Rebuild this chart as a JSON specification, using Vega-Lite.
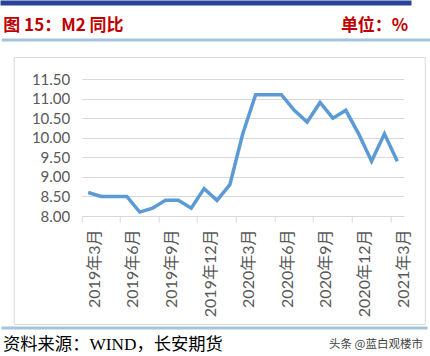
{
  "$schema": "https://vega.github.io/schema/vega-lite/v6.json",
  "background": "white",
  "padding": {"left": 0, "top": 0, "right": 0, "bottom": 0},
  "config": {"view": {"stroke": null}, "font": "Noto Sans CJK SC"},
  "spacing": 9,
  "vconcat": [
    {
      "width": 406,
      "height": 0.01,
      "view": {"stroke": "#27449a", "strokeWidth": 5},
      "data": {"values": []},
      "mark": {"type": "point"},
      "encoding": {}
    },
    {
      "spacing": 1,
      "vconcat": [
        {
          "spacing": 14,
          "center": true,
          "vconcat": [
            {
              "width": 431,
              "height": 0.01,
              "view": {"stroke": "#a6c3dd", "strokeWidth": 3},
              "data": {"values": [{"title": "图 15：M2 同比", "unit": "单位：%"}]},
              "layer": [
                {
                  "mark": {"type": "text", "align": "left", "baseline": "alphabetic", "dy": -9, "fontSize": 17, "fontWeight": "bold", "color": "#c00000", "font": "Noto Sans CJK SC"},
                  "encoding": {
                    "text": {"field": "title"},
                    "x": {"datum": 0, "type": "quantitative", "scale": {"domain": [0, 1]}, "axis": null}
                  }
                },
                {
                  "mark": {"type": "text", "align": "right", "baseline": "alphabetic", "dy": -9, "dx": -26, "fontSize": 17, "fontWeight": "bold", "color": "#c00000", "font": "Noto Sans CJK SC"},
                  "encoding": {
                    "text": {"field": "unit"},
                    "x": {"datum": 1, "type": "quantitative", "scale": {"domain": [0, 1]}, "axis": null}
                  }
                }
              ]
            },
            {
              "width": 411,
              "height": 267,
              "view": {"stroke": "#d9d9d9", "strokeWidth": 1},
              "data": {
                "values": [
                  {"month": "2019年3月", "m2": 8.6},
                  {"month": "2019年4月", "m2": 8.5},
                  {"month": "2019年5月", "m2": 8.5},
                  {"month": "2019年6月", "m2": 8.5},
                  {"month": "2019年7月", "m2": 8.1},
                  {"month": "2019年8月", "m2": 8.2},
                  {"month": "2019年9月", "m2": 8.4},
                  {"month": "2019年10月", "m2": 8.4},
                  {"month": "2019年11月", "m2": 8.2},
                  {"month": "2019年12月", "m2": 8.7},
                  {"month": "2020年1月", "m2": 8.4},
                  {"month": "2020年2月", "m2": 8.8},
                  {"month": "2020年3月", "m2": 10.1},
                  {"month": "2020年4月", "m2": 11.1},
                  {"month": "2020年5月", "m2": 11.1},
                  {"month": "2020年6月", "m2": 11.1},
                  {"month": "2020年7月", "m2": 10.7},
                  {"month": "2020年8月", "m2": 10.4},
                  {"month": "2020年9月", "m2": 10.9},
                  {"month": "2020年10月", "m2": 10.5},
                  {"month": "2020年11月", "m2": 10.7},
                  {"month": "2020年12月", "m2": 10.1},
                  {"month": "2021年1月", "m2": 9.4},
                  {"month": "2021年2月", "m2": 10.1},
                  {"month": "2021年3月", "m2": 9.4}
                ]
              },
              "mark": {"type": "line", "color": "#5b9bd5", "strokeWidth": 3.5},
              "encoding": {
                "x": {
                  "field": "month",
                  "type": "ordinal",
                  "sort": null,
                  "scale": {"type": "band", "range": [68, 390], "paddingInner": 0, "paddingOuter": 0},
                  "axis": {
                    "title": null,
                    "values": ["2019年3月", "2019年6月", "2019年9月", "2019年12月", "2020年3月", "2020年6月", "2020年9月", "2020年12月", "2021年3月"],
                    "bandPosition": 0,
                    "labelOffset": 6.44,
                    "labelAngle": -90,
                    "labelAlign": "right",
                    "labelBaseline": "middle",
                    "offset": -108,
                    "grid": false,
                    "domainColor": "#d9d9d9",
                    "tickColor": "#d9d9d9",
                    "tickSize": 6,
                    "labelPadding": 7,
                    "labelFont": "Lato, Noto Sans CJK SC",
                    "labelFontSize": 16,
                    "labelColor": "#595959"
                  }
                },
                "y": {
                  "field": "m2",
                  "type": "quantitative",
                  "scale": {"domain": [8, 11.5], "range": [159, 22], "nice": false, "zero": false},
                  "axis": {
                    "title": null,
                    "values": [8, 8.5, 9, 9.5, 10, 10.5, 11, 11.5],
                    "format": ".2f",
                    "offset": -68,
                    "domain": false,
                    "ticks": false,
                    "labelPadding": 12,
                    "gridColor": "#d9d9d9",
                    "labelFont": "Lato",
                    "labelFontSize": 15,
                    "labelColor": "#595959"
                  }
                }
              }
            }
          ]
        },
        {
          "width": 423,
          "height": 0.01,
          "view": {"stroke": "#a6c3dd", "strokeWidth": 3},
          "data": {"values": [{"source": "资料来源：WIND，长安期货", "note": "头条 @蓝白观楼市"}]},
          "layer": [
            {
              "mark": {"type": "text", "align": "left", "baseline": "middle", "dy": 16.5, "fontSize": 17.3, "fontWeight": "normal", "color": "#000000", "font": "Liberation Serif, Noto Sans CJK SC"},
              "encoding": {
                "text": {"field": "source"},
                "x": {"datum": 0, "type": "quantitative", "scale": {"domain": [0, 1]}, "axis": null}
              }
            },
            {
              "mark": {"type": "text", "align": "right", "baseline": "middle", "dy": 16.5, "dx": -3, "fontSize": 11.5, "color": "#444444", "font": "Noto Sans CJK SC"},
              "encoding": {
                "text": {"field": "note"},
                "x": {"datum": 1, "type": "quantitative", "scale": {"domain": [0, 1]}, "axis": null}
              }
            }
          ]
        }
      ]
    }
  ]
}
